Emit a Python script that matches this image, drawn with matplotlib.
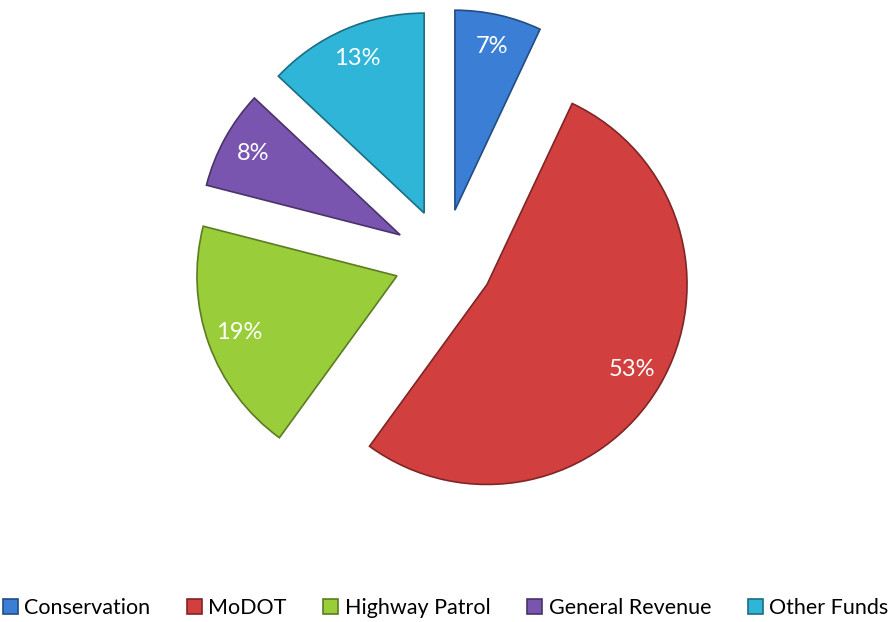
import matplotlib.pyplot as plt
import matplotlib.colors as mcolors

categories = ['Conservation', 'MoDOT', 'Highway Patrol', 'General Revenue', 'Other Funds']
shares = [7, 53, 19, 8, 13]
colors = ['#3a7fd5', '#d23f3f', '#9acd3a', '#7a55b0', '#2fb5d8']

plt.rcParams['font.family'] = ['Lato', 'DejaVu Sans']

fig = plt.figure(figsize=(8.91, 6.22), dpi=100)
ax = fig.add_axes([0, 0, 1, 1])

# darker outline for each wedge, like the bevel in the original
edges = [tuple(c * 0.6 for c in mcolors.to_rgb(col)) for col in colors]

wedges, texts, autotexts = ax.pie(
    shares, colors=colors, startangle=90, counterclock=False,
    explode=[0.25] * len(shares), radius=1.0,
    autopct=lambda p: '%d%%' % round(p), pctdistance=0.84,
    wedgeprops=dict(linewidth=1.2),
    textprops=dict(color='white', fontsize=17),
)
for w, ec in zip(wedges, edges):
    w.set_edgecolor(ec)

ax.set_xlim(-2.22, 2.235)
ax.set_ylim(-1.815, 1.295)
ax.set_aspect('equal')
ax.axis('off')

fig.legend(wedges, categories, loc='lower center', bbox_to_anchor=(0.5, -0.025),
           ncol=5, frameon=False, fontsize=15.5, handlelength=0.7, handleheight=0.7,
           handletextpad=0.3, columnspacing=1.7)

fig.savefig('out.png', dpi=100)
